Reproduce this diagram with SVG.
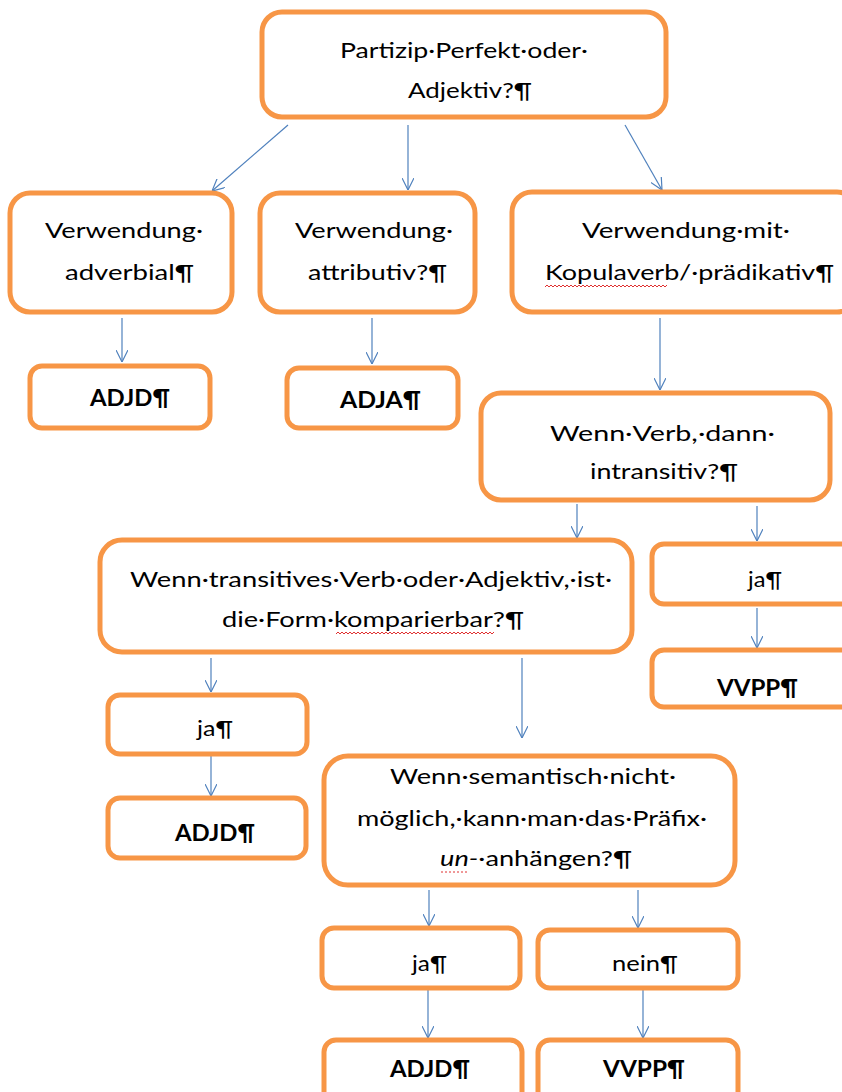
<svg xmlns="http://www.w3.org/2000/svg" width="842" height="1092" viewBox="0 0 842 1092">
<style>
.box{fill:#fff;stroke:#F79646;stroke-width:5}
.t{font-family:Lato,"Open Sans","Liberation Sans",sans-serif;font-size:22px;fill:#000;text-anchor:middle}
.b{font-weight:bold}
.c{stroke:#4F81BD;stroke-width:1.2;fill:none}
.sp{stroke:#E03030;stroke-width:1;fill:none}
</style>
<defs>
<marker id="ar" viewBox="0 0 12 12" refX="12" refY="6" markerWidth="12" markerHeight="12" markerUnits="userSpaceOnUse" orient="auto">
<path d="M0,0 L12,6 L0,12" fill="none" stroke="#4F81BD" stroke-width="1.2"/>
</marker>
</defs>
<rect width="842" height="1092" fill="#fff"/>
<g id="connectors" class="c" marker-end="url(#ar)">
<line x1="288" y1="125" x2="212" y2="191"/>
<line x1="408" y1="125" x2="408" y2="190"/>
<line x1="625" y1="125" x2="662" y2="190"/>
<line x1="122" y1="318" x2="122" y2="362"/>
<line x1="372" y1="318" x2="372" y2="364"/>
<line x1="660" y1="318" x2="660" y2="390"/>
<line x1="577" y1="504" x2="577" y2="538"/>
<line x1="757" y1="506" x2="757" y2="541"/>
<line x1="211" y1="658" x2="211" y2="692"/>
<line x1="522" y1="658" x2="522" y2="738"/>
<line x1="757" y1="608" x2="757" y2="648"/>
<line x1="211" y1="755" x2="211" y2="796"/>
<line x1="429" y1="890" x2="429" y2="926"/>
<line x1="638" y1="890" x2="638" y2="928"/>
<line x1="428" y1="988" x2="428" y2="1038"/>
<line x1="643" y1="990" x2="643" y2="1038"/>
</g>
<g id="n1"><rect class="box" x="262" y="12" width="404" height="105" rx="20"/>
<text class="t" x="464" y="58" textLength="248" lengthAdjust="spacingAndGlyphs">Partizip·Perfekt·oder·</text>
<text class="t" x="470" y="98" textLength="124" lengthAdjust="spacingAndGlyphs">Adjektiv?¶</text></g>
<g id="n2"><rect class="box" x="10" y="193" width="222" height="119" rx="20"/>
<text class="t" x="124" y="238" textLength="158" lengthAdjust="spacingAndGlyphs">Verwendung·</text>
<text class="t" x="129.5" y="280" textLength="129" lengthAdjust="spacingAndGlyphs">adverbial¶</text></g>
<g id="n3"><rect class="box" x="260" y="193" width="215" height="119" rx="20"/>
<text class="t" x="374" y="238" textLength="158" lengthAdjust="spacingAndGlyphs">Verwendung·</text>
<text class="t" x="377.5" y="280" textLength="139" lengthAdjust="spacingAndGlyphs">attributiv?¶</text></g>
<g id="n4"><rect class="box" x="512" y="192" width="345" height="120" rx="20"/>
<text class="t" x="686" y="238" textLength="208" lengthAdjust="spacingAndGlyphs">Verwendung·mit·</text>
<text class="t" x="689.5" y="280" textLength="289" lengthAdjust="spacingAndGlyphs">Kopulaverb/·prädikativ¶</text>
<path class="sp" d="M545,287 l2,-2 l2,2 l2,-2 l2,2 l2,-2 l2,2 l2,-2 l2,2 l2,-2 l2,2 l2,-2 l2,2 l2,-2 l2,2 l2,-2 l2,2 l2,-2 l2,2 l2,-2 l2,2 l2,-2 l2,2 l2,-2 l2,2 l2,-2 l2,2 l2,-2 l2,2 l2,-2 l2,2 l2,-2 l2,2 l2,-2 l2,2 l2,-2 l2,2 l2,-2 l2,2 l2,-2 l2,2 l2,-2 l2,2 l2,-2 l2,2 l2,-2 l2,2 l2,-2 l2,2 l2,-2 l2,2 l2,-2 l2,2 l2,-2 l2,2 l2,-2 l2,2 l2,-2 l2,2 l2,-2 l2,2 l2,-2"/></g>
<g id="n5"><rect class="box" x="30" y="366" width="180" height="62" rx="12"/>
<text class="t b" x="130" y="406" textLength="80" lengthAdjust="spacingAndGlyphs">ADJD¶</text></g>
<g id="n6"><rect class="box" x="287" y="368" width="171" height="60" rx="12"/>
<text class="t b" x="380.5" y="408" textLength="81" lengthAdjust="spacingAndGlyphs">ADJA¶</text></g>
<g id="n7"><rect class="box" x="481" y="393" width="349" height="107" rx="20"/>
<text class="t" x="662.5" y="441" textLength="225" lengthAdjust="spacingAndGlyphs">Wenn·Verb,·dann·</text>
<text class="t" x="664" y="479" textLength="148" lengthAdjust="spacingAndGlyphs">intransitiv?¶</text></g>
<g id="n8"><rect class="box" x="100" y="540" width="532" height="112" rx="22"/>
<text class="t" x="371" y="587" textLength="482" lengthAdjust="spacingAndGlyphs">Wenn·transitives·Verb·oder·Adjektiv,·ist·</text>
<text class="t" x="373" y="627" textLength="302" lengthAdjust="spacingAndGlyphs">die·Form·komparierbar?¶</text>
<path class="sp" d="M336,634 l2,-2 l2,2 l2,-2 l2,2 l2,-2 l2,2 l2,-2 l2,2 l2,-2 l2,2 l2,-2 l2,2 l2,-2 l2,2 l2,-2 l2,2 l2,-2 l2,2 l2,-2 l2,2 l2,-2 l2,2 l2,-2 l2,2 l2,-2 l2,2 l2,-2 l2,2 l2,-2 l2,2 l2,-2 l2,2 l2,-2 l2,2 l2,-2 l2,2 l2,-2 l2,2 l2,-2 l2,2 l2,-2 l2,2 l2,-2 l2,2 l2,-2 l2,2 l2,-2 l2,2 l2,-2 l2,2 l2,-2 l2,2 l2,-2 l2,2 l2,-2 l2,2 l2,-2 l2,2 l2,-2 l2,2 l2,-2 l2,2 l2,-2 l2,2 l2,-2 l2,2 l2,-2 l2,2 l2,-2 l2,2 l2,-2 l2,2 l2,-2 l2,2 l2,-2 l2,2 l2,-2 l2,2 l2,-2"/></g>
<g id="n9"><rect class="box" x="652" y="544" width="205" height="60" rx="12"/>
<text class="t" x="765" y="587" textLength="34" lengthAdjust="spacingAndGlyphs">ja¶</text></g>
<g id="n10"><rect class="box" x="652" y="650" width="205" height="57" rx="12"/>
<text class="t b" x="757.5" y="696" textLength="81" lengthAdjust="spacingAndGlyphs">VVPP¶</text></g>
<g id="n11"><rect class="box" x="108" y="695" width="199" height="59" rx="12"/>
<text class="t" x="215" y="736" textLength="36" lengthAdjust="spacingAndGlyphs">ja¶</text></g>
<g id="n12"><rect class="box" x="108" y="798" width="198" height="60" rx="12"/>
<text class="t b" x="215" y="841" textLength="80" lengthAdjust="spacingAndGlyphs">ADJD¶</text></g>
<g id="n13"><rect class="box" x="324" y="756" width="411" height="129" rx="24"/>
<text class="t" x="533" y="784" textLength="286" lengthAdjust="spacingAndGlyphs">Wenn·semantisch·nicht·</text>
<text class="t" x="532" y="826" textLength="350" lengthAdjust="spacingAndGlyphs">möglich,·kann·man·das·Präfix·</text>
<text class="t" x="536" y="866" textLength="192" lengthAdjust="spacingAndGlyphs"><tspan font-style="italic">un-</tspan>·anhängen?¶</text>
<line x1="441" y1="872" x2="469" y2="872" stroke="#E03030" stroke-width="1" stroke-dasharray="2,2"/></g>
<g id="n14"><rect class="box" x="322" y="928" width="198" height="60" rx="12"/>
<text class="t" x="429.5" y="971" textLength="35" lengthAdjust="spacingAndGlyphs">ja¶</text></g>
<g id="n15"><rect class="box" x="538" y="930" width="200" height="58" rx="12"/>
<text class="t" x="645" y="971" textLength="66" lengthAdjust="spacingAndGlyphs">nein¶</text></g>
<g id="n16"><rect class="box" x="324" y="1040" width="198" height="70" rx="12"/>
<text class="t b" x="430" y="1077" textLength="80" lengthAdjust="spacingAndGlyphs">ADJD¶</text></g>
<g id="n17"><rect class="box" x="538" y="1040" width="200" height="70" rx="12"/>
<text class="t b" x="644" y="1077" textLength="82" lengthAdjust="spacingAndGlyphs">VVPP¶</text></g>
</svg>
